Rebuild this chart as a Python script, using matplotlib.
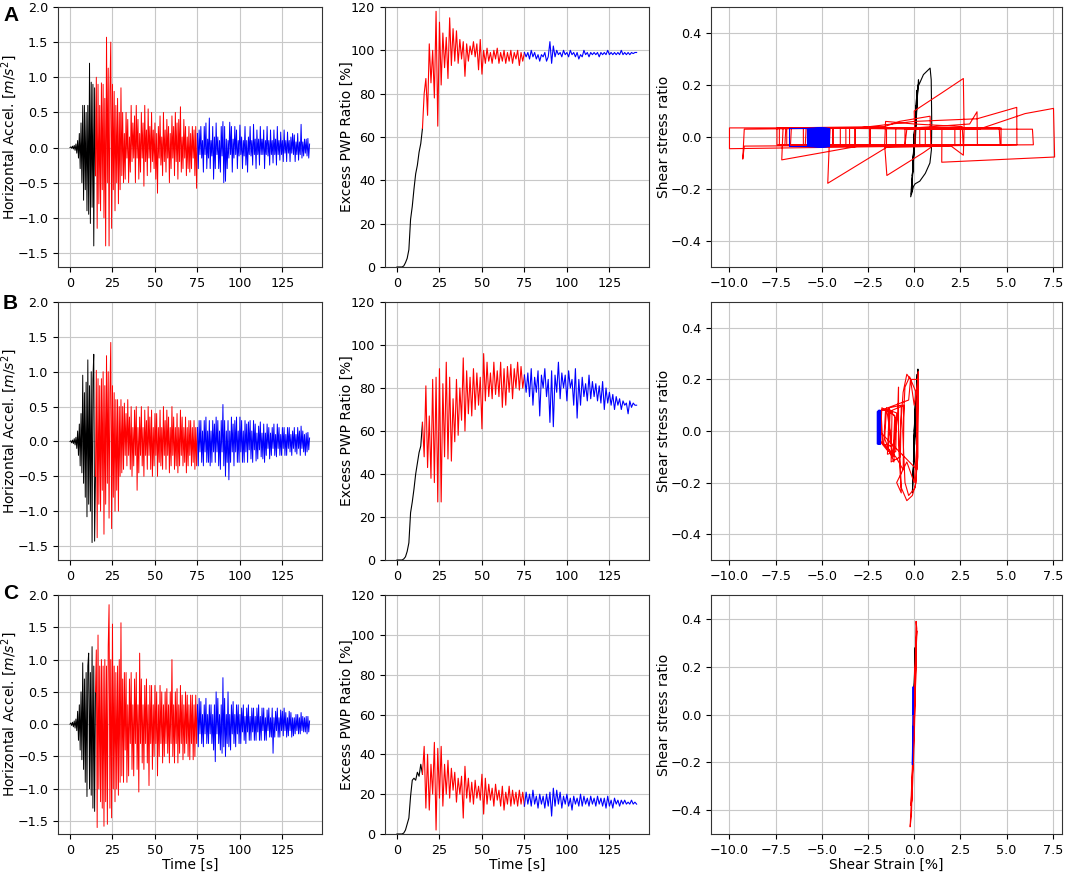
import matplotlib
matplotlib.use("Agg")
import matplotlib.pyplot as plt
import numpy as np

# ---------------- data ----------------
# time step of the digitised records [s]
DT_ACC = 0.5
DT_PWP = 1.0
T_PHASE1 = 15.0   # end of black phase
T_PHASE2 = 75.0   # end of red phase

acc_A = [0.0, 0.01, -0.01, 0.02, -0.02, 0.03, -0.04, 0.05, -0.08, 0.1, -0.15, 0.2, -0.3, 0.35, -0.5, 0.6,
         -0.75, 0.6, -0.6, 0.5, -0.9, 0.6, -0.95, 1.2, -1.08, 0.93, -0.85, 0.9, -1.4, 0.85, -0.4,
         1.0, -1.15, 0.9, -0.8, 0.6, -0.9, 0.92, -0.6, 0.9, -1.0, 0.7, -1.4, 1.57, -0.5, 1.13, -1.4,
         0.8, 1.5, -1.15, 0.9, -0.6, 0.8, -0.9, 0.6, -0.5, 0.7, -0.8, 0.5, -0.6, 0.85, -0.4, 0.5,
         -0.5, 0.2, -0.45, 0.5, -0.15, 0.4, -0.5, 0.15, -0.35, 0.6, -0.2, 0.35, -0.15, 0.45, -0.5, 0.6,
         -0.15, 0.4, -0.45, 0.2, -0.35, 0.5, -0.15, 0.35, -0.55, 0.6, -0.2, 0.25, -0.4, 0.55, -0.15, 0.3,
         -0.35, 0.5, -0.2, 0.25, -0.3, 0.35, -0.45, 0.2, -0.65, 0.3, -0.15, 0.45, -0.25, 0.15, -0.4, 0.5,
         -0.2, 0.25, -0.35, 0.4, -0.15, 0.3, -0.5, 0.2, -0.3, 0.45, -0.15, 0.3, -0.4, 0.5, -0.2, 0.35,
         -0.45, 0.4, -0.2, 0.58, -0.35, 0.15, -0.3, 0.4, -0.15, 0.3, -0.4, 0.15, -0.3, 0.3, -0.35, 0.2,
         -0.3, 0.3, -0.15, 0.25, -0.4, 0.3, -0.58, 0.2,
         -0.3, 0.25, -0.1, 0.3, -0.15, 0.1, -0.35, 0.3, -0.1, 0.35, -0.3, 0.12, -0.15, 0.42, -0.3, 0.1,
         -0.12, 0.3, -0.45, 0.15, -0.3, 0.35, -0.1, 0.15, -0.3, 0.1, -0.35, 0.3, -0.12, 0.37, -0.5, 0.3,
         -0.48, 0.12, -0.3, 0.1, -0.15, 0.36, -0.1, 0.3, -0.35, 0.12, -0.15, 0.3, -0.1, 0.25, -0.3, 0.1,
         -0.12, 0.32, -0.1, 0.15, -0.3, 0.1, -0.12, 0.3, -0.25, 0.1, -0.35, 0.15, -0.1, 0.3, -0.12, 0.1,
         -0.25, 0.33, -0.1, 0.12, -0.3, 0.25, -0.1, 0.12, -0.25, 0.3, -0.1, 0.12, -0.1, 0.25, -0.3, 0.1,
         -0.1, 0.3, -0.12, 0.1, -0.25, 0.25, -0.1, 0.1, -0.22, 0.25, -0.1, 0.12, -0.25, 0.3, -0.1, 0.1,
         -0.18, 0.22, -0.1, 0.1, -0.2, 0.25, -0.08, 0.1, -0.2, 0.22, -0.08, 0.1, -0.2, 0.15, -0.08, 0.2,
         -0.1, 0.18, -0.2, 0.08, -0.1, 0.2, -0.18, 0.08, -0.1, 0.33, -0.15, 0.08, -0.12, 0.12, -0.08, 0.12,
         -0.12, 0.13, -0.15, 0.05]

acc_B = [0.0, 0.01, -0.02, 0.02, -0.03, 0.04, -0.05, 0.06, -0.1, 0.15, -0.2, 0.25, -0.35, 0.4, -0.45, 0.95,
         -0.6, 0.7, -0.8, 0.85, -1.08, 1.17, -0.9, 0.8, -1.0, 1.0, -1.45, 0.9, 1.25, -1.43, -0.5,
         1.02, -1.38, 0.9, -0.9, 0.8, -1.0, 0.9, -0.7, 1.0, -1.33, 0.8, -0.9, 1.23, -0.6, 1.0, -1.1,
         0.7, 1.42, -1.25, 0.8, -0.8, 0.7, -1.0, 0.6, -0.7, 0.6, -1.0, 0.5, -0.5, 0.6, -0.45, 0.5,
         -0.4, 0.55, -0.2, 0.4, -0.35, 0.6, -0.2, 0.35, -0.4, 0.5, -0.5, 0.2, -0.35, 0.45, -0.2, 0.5,
         -0.7, 0.2, -0.45, 0.35, -0.2, 0.5, -0.35, 0.2, -0.5, 0.45, -0.2, 0.3, -0.4, 0.5, -0.2, 0.35,
         -0.4, 0.45, -0.5, 0.2, -0.35, 0.4, -0.2, 0.4, -0.5, 0.2, -0.3, 0.45, -0.35, 0.2, -0.4, 0.5,
         -0.2, 0.3, -0.4, 0.45, -0.2, 0.35, -0.45, 0.2, -0.35, 0.5, -0.2, 0.35, -0.4, 0.2, -0.35, 0.4,
         -0.45, 0.2, -0.35, 0.45, -0.2, 0.35, -0.35, 0.2, -0.3, 0.35, -0.45, 0.2, -0.35, 0.3, -0.2, 0.3,
         -0.35, 0.2, -0.3, 0.3, -0.4, 0.2, -0.35, 0.2,
         -0.35, 0.3, -0.15, 0.3, -0.3, 0.15, -0.35, 0.3, -0.15, 0.35, -0.3, 0.15, -0.3, 0.3, -0.35, 0.15,
         -0.3, 0.3, -0.15, 0.25, -0.3, 0.35, -0.15, 0.3, -0.35, 0.15, -0.4, 0.3, -0.15, 0.53, -0.35, 0.3,
         -0.5, 0.15, -0.3, 0.3, -0.55, 0.15, -0.3, 0.35, -0.15, 0.25, -0.35, 0.3, -0.15, 0.35, -0.3, 0.15,
         -0.3, 0.35, -0.15, 0.3, -0.3, 0.15, -0.3, 0.3, -0.15, 0.25, -0.3, 0.28, -0.12, 0.3, -0.25, 0.15,
         -0.3, 0.3, -0.12, 0.25, -0.28, 0.12, -0.25, 0.22, -0.12, 0.28, -0.22, 0.12, -0.25, 0.25, -0.3, 0.12,
         -0.2, 0.25, -0.1, 0.2, -0.25, 0.12, -0.2, 0.2, -0.1, 0.25, -0.2, 0.1, -0.22, 0.25, -0.1, 0.2,
         -0.2, 0.1, -0.2, 0.2, -0.1, 0.2, -0.2, 0.1, -0.2, 0.2, -0.1, 0.2, -0.15, 0.1, -0.2, 0.15,
         -0.1, 0.2, -0.15, 0.1, -0.18, 0.2, -0.1, 0.15, -0.2, 0.22, -0.1, 0.15, -0.15, 0.1, -0.2, 0.12,
         -0.15, 0.13, -0.12, 0.05]

acc_C = [0.0, 0.02, -0.02, 0.03, -0.04, 0.05, -0.06, 0.08, -0.1, 0.2, -0.25, 0.3, -0.4, 0.5, -0.55, 0.95,
         -0.7, 0.7, -0.9, 0.8, -1.12, 0.9, 1.1, -1.0, 0.8, -1.1, 1.2, -1.3, 0.9, -1.35, 0.5,
         1.15, -1.6, 1.38, -1.0, 0.9, -1.2, 1.0, -1.3, 0.9, -1.58, 1.0, -1.2, 0.9, -1.55, 1.2, 1.85,
         -1.3, 1.0, -1.45, 1.55, -1.0, 0.9, -1.2, 0.8, -1.0, 0.9, -1.1, 1.0, -0.9, 1.57, -0.8, 0.7,
         -0.9, 0.8, -0.4, 0.8, -0.9, 0.3, -0.8, 0.7, -0.3, 0.8, -0.7, 0.3, -0.8, 0.7, -0.3, 0.8,
         -0.7, 0.3, -1.05, 1.1, -0.3, 0.7, -0.6, 0.3, -0.7, 0.6, -0.3, 0.7, -0.6, 0.3, -0.95, 0.6,
         -0.3, 0.6, -0.7, 0.3, -0.5, 0.6, -0.3, 0.5, -0.8, 0.3, -0.5, 0.6, -0.3, 0.5, -0.6, 0.3,
         -0.5, 0.5, -0.3, 0.55, -0.45, 0.3, -0.6, 0.5, -0.3, 1.0, -0.5, 0.3, -0.6, 0.5, -0.3, 0.55,
         -0.6, 0.3, -0.45, 0.6, -0.3, 0.45, -0.55, 0.3, -0.45, 0.5, -0.3, 0.45, -0.5, 0.3, -0.55, 0.45,
         -0.3, 0.45, -0.55, 0.3, -0.5, 0.45, -0.3, 0.3,
         -0.35, 0.4, -0.15, 0.35, -0.3, 0.15, -0.35, 0.3, -0.15, 0.4, -0.3, 0.15, -0.3, 0.3, -0.15, 0.3,
         -0.3, 0.15, -0.4, 0.3, -0.58, 0.5, -0.15, 0.4, -0.3, 0.15, -0.4, 0.3, -0.45, 0.72, -0.35, 0.4,
         -0.5, 0.15, -0.3, 0.5, -0.35, 0.15, -0.4, 0.3, -0.15, 0.35, -0.3, 0.15, -0.35, 0.3, -0.15, 0.3,
         -0.3, 0.15, -0.3, 0.25, -0.12, 0.3, -0.25, 0.12, -0.3, 0.25, -0.12, 0.3, -0.25, 0.12, -0.25, 0.25,
         -0.12, 0.25, -0.25, 0.12, -0.25, 0.25, -0.12, 0.3, -0.25, 0.12, -0.25, 0.25, -0.1, 0.25, -0.25, 0.1,
         -0.25, 0.22, -0.1, 0.25, -0.2, 0.1, -0.2, 0.25, -0.45, 0.1, -0.2, 0.2, -0.1, 0.25, -0.2, 0.1,
         -0.2, 0.22, -0.1, 0.2, -0.18, 0.25, -0.1, 0.18, -0.2, 0.1, -0.18, 0.2, -0.1, 0.18, -0.2, 0.1,
         -0.18, 0.1, -0.15, 0.15, -0.1, 0.15, -0.15, 0.1, -0.15, 0.18, -0.1, 0.12, -0.12, 0.1, -0.12, 0.12,
         -0.15, 0.12, -0.12, 0.05]

pwp_A = [0, 0, 0, 0, 0.5, 2, 4, 8, 22, 28, 36, 43, 47, 53, 57, 64,
         80, 87, 70, 103, 85, 100, 78, 118, 65, 113, 84, 108, 92, 106, 87, 115, 93, 110, 95, 109,
         94, 105, 96, 104, 88, 103, 95, 102, 98, 104, 97, 103, 91, 105, 89, 100, 94, 101, 95, 99,
         94, 100, 96, 101, 94, 99, 95, 100, 94, 99, 95, 100, 94, 99, 96, 100, 93, 99, 95, 99,
         97, 99, 96, 100, 97, 99, 96, 98, 95, 98, 97, 99, 95, 97, 104, 94, 102, 97, 100, 98,
         99, 97, 100, 98, 99, 97, 100, 98, 99, 97, 99, 96, 98, 97, 100, 98, 99, 97, 99, 98,
         99, 98, 99, 97, 99, 98, 99, 98, 100, 98, 99, 98, 99, 98, 99, 98, 100, 98, 99, 98,
         99, 98, 99, 98.5, 99, 99]

pwp_B = [0, 0, 0, 0, 0.5, 1.5, 4, 8, 22, 27, 33, 40, 45, 50, 53, 64,
         48, 81, 43, 67, 38, 84, 36, 85, 27, 89, 27, 82, 48, 92, 47, 85, 46, 75, 55, 84,
         58, 80, 65, 94, 60, 88, 68, 85, 67, 89, 70, 87, 72, 85, 61, 96, 74, 92, 76, 87,
         75, 92, 77, 88, 76, 92, 71, 89, 72, 90, 78, 91, 75, 89, 80, 92, 79, 90, 80, 86,
         78, 87, 76, 89, 72, 85, 78, 88, 67, 86, 80, 89, 76, 84, 64, 88, 62, 86, 78, 92,
         75, 87, 80, 86, 74, 88, 80, 84, 72, 89, 66, 84, 72, 85, 76, 82, 74, 86, 75, 83,
         76, 82, 74, 81, 73, 83, 70, 80, 73, 78, 72, 77, 70, 76, 72, 75, 70, 74, 72, 73,
         68, 74, 71, 73, 72, 72]

pwp_C = [0, 0, 0, 0, 0.5, 2, 5, 8, 19, 27, 28, 27, 31, 29, 35, 30,
         44, 13, 40, 12, 35, 20, 46, 2, 43, 18, 44, 14, 35, 20, 37, 18, 33, 22, 31, 16,
         28, 20, 29, 8, 34, 18, 28, 16, 26, 15, 27, 18, 24, 17, 30, 10, 28, 15, 25, 17,
         23, 14, 25, 17, 22, 14, 24, 12, 21, 15, 24, 14, 22, 15, 21, 14, 22, 15, 21, 14,
         21, 15, 20, 14, 22, 15, 19, 13, 20, 15, 19, 13, 20, 14, 21, 9, 23, 14, 22, 15,
         21, 13, 19, 15, 20, 14, 18, 12, 19, 15, 18, 14, 20, 14, 19, 15, 18, 14, 19, 15,
         18, 14, 19, 15, 18, 14, 18, 13, 19, 14, 17, 13, 18, 15, 17, 14, 17, 15, 17, 15,
         16, 15, 17, 15, 16, 15]

# shear strain [%] / shear stress ratio paths, one pair per phase
strain_A1 = [0, 0.02, -0.03, 0.05, -0.06, 0.1, -0.1, 0.15, -0.15, 0.23, 0.25, 0.5, 0.86, 0.92, 0.95, 0.93,
             0.85, 0.6, 0.3, 0.05, -0.04, -0.19, 0.0, 0.2, 0.05]
stress_A1 = [0, 0.03, -0.04, 0.07, -0.09, 0.12, -0.15, 0.18, -0.22, 0.22, 0.2, 0.24, 0.265, 0.22, 0.05, -0.05,
             -0.1, -0.14, -0.17, -0.18, -0.19, -0.23, -0.05, 0.2, -0.03]
strain_A2 = [0.05, 0.0, 1.5, 2.66, 2.7, 2.66, 2.0, -1.5, -4.68, -4.6, -4.55, 0.0, 3.0, 3.4, 3.42, -3.0,
             -7.17, -7.1, -1.6, -0.8, 0.86, 0.9, 0.5, -1.48, -1.6, -1.55, 0.0, 2.6, 2.65, -9.2, -9.28,
             -9.2, -3.0, 0.0, 3.4, 5.55, 5.56, -10.0, -10.0, 4.6, 4.65, -7.0, -6.95, 1.5, 1.49, 7.6,
             7.54, 6.0, 3.5, -6.0, -6.0, -0.5, -0.4, 6.4, 6.45, -5.9, -5.85, -3.7, -3.7, -6.7, -6.65,
             -4.0, -4.0, -7.43, -7.43, -2.39, -2.39, -3.5, -3.5, 0.3, 0.3, -3.2, -3.2, 2.2, 2.2,
             -2.4, -2.4, 0.6, 0.6, -1.0, -1.0, 4.7, 4.7, -0.5, -0.5, 2.5, 2.5, -4.4, -4.4, -1.5,
             -1.5, -7.3, -7.3, -3.2, -3.2, -6.9, -6.9, -4.4, -4.4, -5.8]
stress_A2 = [-0.03, 0.1, 0.17, 0.225, 0.03, -0.07, -0.035, -0.04, -0.178, -0.03, 0.035, 0.035, 0.05, 0.097,
             -0.03, -0.035, -0.088, 0.035, 0.04, 0.06, 0.08, -0.04, -0.06, -0.148, -0.03, 0.06, 0.05, 0.04,
             -0.03, -0.035, -0.085, 0.03, 0.035, 0.06, 0.07, 0.114, -0.03, -0.045, 0.035, 0.035, -0.03,
             -0.03, 0.035, 0.03, -0.097, -0.077, 0.11, 0.09, 0.03, 0.035, -0.035, -0.03, 0.03, 0.03, -0.03,
             -0.035, 0.035, 0.035, -0.03, -0.035, 0.035, 0.035, -0.03, -0.03, 0.035, 0.035, -0.03,
             -0.03, 0.035, 0.035, -0.03, -0.03, 0.035, 0.035, -0.03, -0.03, 0.035, 0.035, -0.03,
             -0.03, 0.035, 0.035, -0.03, -0.03, 0.035, 0.035, -0.03, -0.03, 0.035, 0.035, -0.03,
             -0.03, 0.035, 0.035, -0.03, -0.03, 0.035, 0.035, -0.03, -0.03]
strain_A3 = [-5.8, -5.8, -4.6, -4.6, -6.8, -6.8, -4.7, -4.7, -5.75, -5.75, -4.65, -4.65, -5.7, -5.7,
             -4.7, -4.7, -5.65, -5.65, -4.75, -4.75, -5.6, -5.6, -4.7, -4.7, -5.5, -5.5, -4.8, -4.8,
             -5.45, -5.45, -4.75, -4.75, -5.4, -5.4, -4.85, -4.85, -5.35, -5.35, -4.8, -4.8, -5.3, -5.3,
             -4.9, -4.9, -5.25, -5.25, -4.95, -4.95, -5.2, -5.2, -5.0, -5.0, -5.15, -5.15, -5.05, -5.05,
             -5.1, -5.1, -5.78, -5.78, -4.62, -4.62, -5.72, -5.72, -4.68, -4.68, -5.62, -5.62, -4.72,
             -4.72, -5.52, -5.52, -4.78, -4.78, -5.42, -5.42, -4.88, -4.88, -5.32, -5.32, -4.92]
stress_A3 = [-0.03, 0.035, 0.035, -0.035, -0.035, 0.035, 0.035, -0.035, -0.035, 0.035, 0.035, -0.035,
             -0.035, 0.035, 0.035, -0.035, -0.035, 0.035, 0.035, -0.035, -0.035, 0.035, 0.035, -0.035,
             -0.035, 0.035, 0.035, -0.035, -0.035, 0.035, 0.035, -0.035, -0.035, 0.035, 0.035, -0.035,
             -0.035, 0.035, 0.035, -0.035, -0.035, 0.035, 0.035, -0.035, -0.035, 0.035, 0.035, -0.035,
             -0.035, 0.035, 0.035, -0.035, -0.035, 0.035, 0.035, -0.035, -0.035, 0.035, 0.035, -0.035,
             -0.035, 0.035, 0.035, -0.035, -0.035, 0.035, 0.035, -0.035, -0.035, 0.035, 0.035, -0.035,
             -0.035, 0.035, 0.035, -0.035, -0.035, 0.035, 0.035, -0.035, -0.035]

strain_B1 = [0, 0.03, -0.02, 0.06, -0.04, 0.1, -0.06, 0.16, -0.1, 0.2, 0.22, 0.15, 0.12]
stress_B1 = [0, 0.05, -0.06, 0.1, -0.12, 0.15, -0.18, 0.22, -0.24, 0.24, 0.2, 0.05, -0.05]
strain_B2 = [0.12, 0.22, 0.18, 0.1, -0.1, -0.4, -0.7, -0.8, -0.6, -0.4, -0.2, 0.0, 0.2, 0.2, 0.05,
             -0.3, -0.5, -0.62, -0.5, -0.25, 0.1, 0.15, 0.0, -0.4, -0.95, -0.7, -0.85, -0.85, -0.9,
             -1.2, -1.4, -1.0, -1.1, -1.6, -1.5, -1.2, -1.7, -1.8, -1.3, -1.4, -1.85, -1.75, -1.05,
             -1.15, -1.65, -1.55, -0.95, -1.0, -1.45, -1.35, -0.7, -0.75, -1.25, -1.2, -0.55, -0.6,
             -1.0, -1.8, -1.8, -0.3, -0.2, 0.2, 0.15, -1.9]
stress_B2 = [-0.05, 0.23, 0.0, -0.2, -0.25, -0.27, -0.22, -0.05, 0.15, 0.22, 0.2, 0.1, 0.2, -0.1, -0.22,
             -0.25, -0.2, 0.0, 0.17, 0.21, 0.15, -0.05, -0.2, -0.12, -0.2, -0.24, -0.05, 0.17, 0.05,
             -0.1, 0.09, 0.05, -0.12, -0.03, 0.09, -0.06, -0.05, 0.08, 0.08, -0.08, -0.04, 0.09, 0.06,
             -0.1, -0.05, 0.085, 0.07, -0.08, -0.09, 0.09, 0.1, -0.1, -0.12, 0.08, 0.1, -0.15,
             -0.1, -0.04, 0.08, 0.12, 0.2, 0.2, -0.15, 0.0]
strain_B3 = [-1.9, -1.9, -1.85, -1.85, -2.0, -2.0, -1.83, -1.83, -1.95, -1.95, -1.85, -1.85, -1.98, -1.98,
             -1.84, -1.84, -1.92, -1.92, -1.86, -1.86, -1.96, -1.96, -1.88, -1.88, -1.9]
stress_B3 = [0.0, 0.08, 0.08, -0.05, -0.05, 0.075, 0.075, -0.05, -0.05, 0.08, 0.08, -0.045, -0.045, 0.07,
             0.07, -0.05, -0.05, 0.075, 0.075, -0.05, -0.05, 0.07, 0.07, -0.04, 0.0]

strain_C1 = [0, 0.02, -0.06, 0.04, -0.08, 0.05, -0.04]
stress_C1 = [0, 0.1, -0.12, 0.2, -0.18, 0.28, 0.0]
strain_C2 = [-0.04, 0.05, 0.10, 0.14, 0.06, -0.02, -0.12, -0.22, -0.15, -0.08, 0.02, 0.10, 0.14, 0.0,
             -0.1, -0.18, -0.12, 0.0, 0.08, 0.12, -0.04]
stress_C2 = [0.0, 0.2, 0.39, 0.36, 0.1, -0.1, -0.3, -0.47, -0.42, -0.2, 0.1, 0.3, 0.35, 0.0,
             -0.22, -0.38, -0.36, -0.1, 0.15, 0.3, 0.0]
strain_C3 = [-0.05, -0.06, -0.1, -0.07]
stress_C3 = [0.0, 0.116, -0.21, -0.05]

rows = ["A", "B", "C"]
acc = [acc_A, acc_B, acc_C]
pwp = [pwp_A, pwp_B, pwp_C]
loops = [
    [(strain_A1, stress_A1), (strain_A2, stress_A2), (strain_A3, stress_A3)],
    [(strain_B1, stress_B1), (strain_B2, stress_B2), (strain_B3, stress_B3)],
    [(strain_C1, stress_C1), (strain_C2, stress_C2), (strain_C3, stress_C3)],
]
phase_colors = ["black", "red", "blue"]

# ---------------- figure ----------------
W, H = 1065, 872
plt.rcParams["font.size"] = 10
plt.rcParams["xtick.labelsize"] = 9.2
plt.rcParams["ytick.labelsize"] = 9.2
fig = plt.figure(figsize=(W / 100, H / 100), dpi=100)


def px_axes(x0, y0, x1, y1):
    return fig.add_axes([x0 / W, 1 - y1 / H, (x1 - x0) / W, (y1 - y0) / H])


col_x = [(58, 322), (385, 649), (711, 1062)]
row_y = [(7, 267), (302, 560), (595, 834)]
letter_y = [6, 294, 584]
# right edge of each y label, in pixels
ylab_x = [19, 354, 671]


def plot_phases(ax, t, y, lw):
    t = np.asarray(t)
    y = np.asarray(y)
    masks = [t <= T_PHASE1, (t >= T_PHASE1) & (t <= T_PHASE2), t >= T_PHASE2]
    for m, c in zip(masks, phase_colors):
        ax.plot(t[m], y[m], color=c, lw=lw)


for r in range(3):
    (ya, yb) = row_y[r]
    ax1 = px_axes(col_x[0][0], ya, col_x[0][1], yb)
    ax2 = px_axes(col_x[1][0], ya, col_x[1][1], yb)
    ax3 = px_axes(col_x[2][0], ya, col_x[2][1], yb)

    t_acc = DT_ACC * np.arange(len(acc[r]))
    plot_phases(ax1, t_acc, acc[r], 0.7)
    ax1.set_xlim(-7.05, 148.3)
    ax1.set_ylim(-1.7, 2.0)
    ax1.set_yticks(np.arange(-1.5, 2.01, 0.5))
    ax1.set_xticks([0, 25, 50, 75, 100, 125])
    ax1.set_ylabel("Horizontal Accel. [$m/s^2$]")

    t_pwp = DT_PWP * np.arange(len(pwp[r]))
    plot_phases(ax2, t_pwp, pwp[r], 0.8)
    ax2.set_xlim(-7.05, 148.3)
    ax2.set_ylim(0, 120)
    ax2.set_xticks([0, 25, 50, 75, 100, 125])
    ax2.set_ylabel("Excess PWP Ratio [%]")

    for (sx, sy), c in zip(loops[r], phase_colors):
        ax3.plot(sx, sy, color=c, lw=0.8)
    ax3.set_xlim(-11, 8)
    ax3.set_ylim(-0.5, 0.5)
    ax3.set_xticks(np.arange(-10, 7.6, 2.5))
    ax3.set_yticks([-0.4, -0.2, 0.0, 0.2, 0.4])
    ax3.set_ylabel("Shear stress ratio")

    for c, ax in enumerate((ax1, ax2, ax3)):
        ax.grid(True, color="#c8c8c8", lw=0.8)
        ax.set_axisbelow(True)
        for s in ax.spines.values():
            s.set_color("#333333")
        x0, x1 = col_x[c]
        ax.yaxis.set_label_coords((ylab_x[c] - x0) / (x1 - x0), 0.5)

    if r == 2:
        ax1.set_xlabel("Time [s]", labelpad=1)
        ax2.set_xlabel("Time [s]", labelpad=1)
        ax3.set_xlabel("Shear Strain [%]", labelpad=1)

    fig.text(3 / W, 1 - letter_y[r] / H, rows[r], ha="left", va="top",
             fontsize=15, fontweight="bold", family="Liberation Sans")

fig.savefig("out.png", dpi=100)
